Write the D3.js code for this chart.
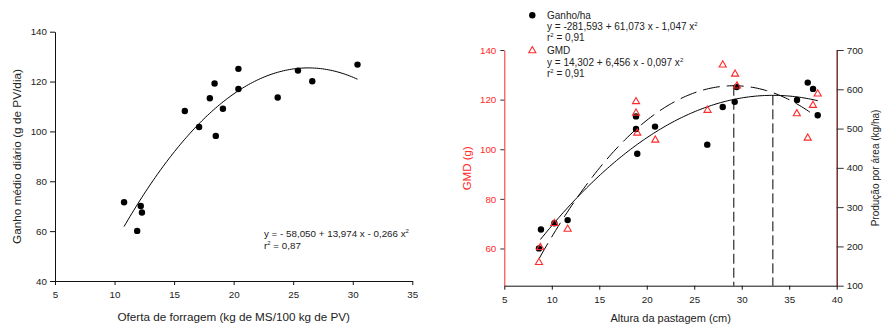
<!DOCTYPE html>
<head>
  <meta charset="utf-8">
  <title>Ganho médio diário e produção por área</title>
  <style>
    body { margin: 0; background: #fff; font-family: "Liberation Sans", Arial, sans-serif; }
    svg text { font-family: "Liberation Sans", Arial, sans-serif; }
  </style>
  <script src="https://cdn.jsdelivr.net/npm/d3@7/dist/d3.min.js"></script>
</head>
<body>
<script>
  // ---- data: left panel (oferta de forragem x GMD)
  var ofertaX   = [10.8, 11.9, 12.2, 12.3, 15.9, 17.1, 18.0, 18.4, 18.5, 19.1, 20.4, 20.4, 23.7, 25.4, 26.6, 30.4];
  var ofertaGMD = [71.6, 60.1, 70.1, 67.5, 108.2, 101.8, 113.3, 119.2, 98.2, 109.1, 125.1, 117.0, 113.6, 124.4, 120.1, 126.8];
  var coefOferta = [-58.050, 13.974, -0.266];   // y = a + b x + c x^2
  var rangeOferta = [10.8, 30.4];

  // ---- data: right panel (altura da pastagem)
  var alturaGanho = [8.65, 8.86, 10.27, 11.67, 18.87, 18.87, 19.0, 20.87, 26.37, 28.0, 29.26, 29.47, 35.82, 36.95, 37.51, 38.0];
  var ganhoHa     = [195, 243, 259, 267, 531, 499, 436, 505, 459, 555, 568, 606, 573, 617, 601, 534];
  var alturaGMD   = [8.65, 8.79, 10.27, 11.67, 18.87, 18.87, 19.0, 20.9, 26.4, 28.0, 29.3, 29.5, 35.8, 36.95, 37.5, 38.0];
  var gmdAltura   = [54.4, 60.4, 70.1, 67.8, 119.2, 114.6, 106.5, 103.7, 115.7, 134.0, 130.3, 125.5, 114.3, 104.5, 117.7, 122.3];
  var coefGanho = [-281.593, 61.073, -1.047];
  var coefGMD   = [14.302, 6.456, -0.097];
  var rangeGanho = [8.7, 38.0];
  var rangeGMD   = [8.8, 38.0];

  var xTicksLeft  = [5, 10, 15, 20, 25, 30, 35];
  var yTicksLeft  = [40, 60, 80, 100, 120, 140];
  var xTicksRight = [5, 10, 15, 20, 25, 30, 35, 40];
  var yTicksGMD   = [60, 80, 100, 120, 140];
  var yTicksGanho = [100, 200, 300, 400, 500, 600, 700];

  var width = 882, height = 324;
  var red = "#ff2a2a", maroon = "#6e2020", txt = "#222";

  var svg = d3.select("body").append("svg")
    .attr("width", width).attr("height", height);

  function quad(c) { return function (x) { return c[0] + c[1] * x + c[2] * x * x; }; }
  function curvePts(c, r) {
    var f = quad(c), pts = [], n = 120;
    for (var i = 0; i <= n; i++) { var x = r[0] + (r[1] - r[0]) * i / n; pts.push([x, f(x)]); }
    return pts;
  }

  // ================= left panel =================
  var xL = d3.scaleLinear().domain([5, 35]).range([55, 412.3]);
  var yL = d3.scaleLinear().domain([40, 140]).range([281, 31.7]);

  var axL = svg.append("g").attr("transform", "translate(0," + yL(40) + ")")
    .call(d3.axisBottom(xL).tickValues(xTicksLeft).tickSize(4).tickPadding(6).tickSizeOuter(0));
  var ayL = svg.append("g").attr("transform", "translate(" + xL(5) + ",0)")
    .call(d3.axisLeft(yL).tickValues(yTicksLeft).tickSize(5).tickPadding(3).tickSizeOuter(0));
  [axL, ayL].forEach(function (g) {
    g.selectAll("path, line").attr("stroke", "#111");
    g.selectAll("text").attr("fill", txt).style("font-size", "9.8px");
  });

  svg.append("path")
    .datum(curvePts(coefOferta, rangeOferta))
    .attr("fill", "none").attr("stroke", "#000").attr("stroke-width", 1)
    .attr("d", d3.line().x(d => xL(d[0])).y(d => yL(d[1])));

  svg.append("g").selectAll("circle")
    .data(ofertaX).enter().append("circle")
    .attr("cx", d => xL(d))
    .attr("cy", (d, i) => yL(ofertaGMD[i]))
    .attr("r", 3.2).attr("fill", "#000");

  var eqL = svg.append("text").attr("x", 264).attr("y", 237).attr("fill", txt).style("font-size", "9.8px");
  eqL.append("tspan").text("y = - 58,050 + 13,974 x - 0,266 x");
  eqL.append("tspan").attr("dy", -4).style("font-size", "6px").text("2");
  var r2L = svg.append("text").attr("x", 264).attr("y", 248.5).attr("fill", txt).style("font-size", "9.8px");
  r2L.append("tspan").text("r");
  r2L.append("tspan").attr("dy", -4).style("font-size", "6px").text("2");
  r2L.append("tspan").attr("dy", 4).text(" = 0,87");

  svg.append("text").attr("x", 233.7).attr("y", 321).attr("text-anchor", "middle")
    .attr("fill", txt).style("font-size", "11.7px")
    .text("Oferta de forragem (kg de MS/100 kg de PV)");
  svg.append("text").attr("transform", "translate(20.5,156.5) rotate(-90)").attr("text-anchor", "middle")
    .attr("fill", txt).style("font-size", "11.8px")
    .text("Ganho médio diário (g de PV/dia)");

  // ================= right panel =================
  var xR = d3.scaleLinear().domain([5, 40]).range([504.3, 836.7]);
  var yG = d3.scaleLinear().domain([45, 140]).range([285.7, 50]);
  var yH = d3.scaleLinear().domain([100, 700]).range([285.7, 50]);

  var axR = svg.append("g").attr("transform", "translate(0,285.7)")
    .call(d3.axisBottom(xR).tickValues(xTicksRight).tickSize(4).tickPadding(6).tickSizeOuter(0));
  axR.selectAll("path, line").attr("stroke", "#111");
  axR.selectAll("text").attr("fill", txt).style("font-size", "9.8px");

  var ayG = svg.append("g").attr("transform", "translate(" + xR(5) + ",0)")
    .call(d3.axisLeft(yG).tickValues(yTicksGMD).tickSize(4).tickPadding(4).tickSizeOuter(0));
  ayG.select("path").attr("stroke", red);
  ayG.selectAll("line").attr("stroke", "#333");
  ayG.selectAll("text").attr("fill", red).style("font-size", "9.8px");

  var ayH = svg.append("g").attr("transform", "translate(" + xR(40) + ",0)")
    .call(d3.axisRight(yH).tickValues(yTicksGanho).tickSize(7).tickPadding(3).tickSizeOuter(0));
  ayH.select("path").attr("stroke", maroon).attr("stroke-width", 1.4);
  ayH.selectAll("line").attr("stroke", "#333");
  ayH.selectAll("text").attr("fill", txt).style("font-size", "9.8px");

  // fitted curves: Ganho/ha dashed (right axis), GMD solid (left axis)
  svg.append("path")
    .datum(curvePts(coefGanho, rangeGanho))
    .attr("fill", "none").attr("stroke", "#000").attr("stroke-width", 1)
    .attr("stroke-dasharray", "17,7")
    .attr("d", d3.line().x(d => xR(d[0])).y(d => yH(d[1])));
  svg.append("path")
    .datum(curvePts(coefGMD, rangeGMD))
    .attr("fill", "none").attr("stroke", "#000").attr("stroke-width", 1)
    .attr("d", d3.line().x(d => xR(d[0])).y(d => yG(d[1])));

  // vertical lines at the maxima
  var peakGanho = -coefGanho[1] / (2 * coefGanho[2]);
  var peakGMD = -coefGMD[1] / (2 * coefGMD[2]);
  svg.append("line")
    .attr("x1", xR(peakGanho)).attr("x2", xR(peakGanho))
    .attr("y1", yH(quad(coefGanho)(peakGanho))).attr("y2", yH(100))
    .attr("stroke", "#000").attr("stroke-width", 1).attr("stroke-dasharray", "10,4");
  svg.append("line")
    .attr("x1", xR(peakGMD)).attr("x2", xR(peakGMD))
    .attr("y1", yG(quad(coefGMD)(peakGMD))).attr("y2", yH(100))
    .attr("stroke", "#000").attr("stroke-width", 1).attr("stroke-dasharray", "10,4");

  var tri = d3.symbol().type(d3.symbolTriangle).size(22);

  svg.append("g").selectAll("circle")
    .data(alturaGanho).enter().append("circle")
    .attr("cx", d => xR(d))
    .attr("cy", (d, i) => yH(ganhoHa[i]))
    .attr("r", 3.2).attr("fill", "#000");

  svg.append("g").selectAll("path")
    .data(alturaGMD).enter().append("path")
    .attr("d", tri)
    .attr("transform", (d, i) => "translate(" + xR(d) + "," + yG(gmdAltura[i]) + ")")
    .attr("fill", "none").attr("stroke", red).attr("stroke-width", 1.1);

  // legend
  svg.append("circle").attr("cx", 532.3).attr("cy", 15.3).attr("r", 3.2).attr("fill", "#000");
  svg.append("path").attr("d", tri).attr("transform", "translate(532.3,50.7)")
    .attr("fill", "none").attr("stroke", red).attr("stroke-width", 1.1);

  function legendBlock(y0, name, eq, r2) {
    svg.append("text").attr("x", 547).attr("y", y0).attr("fill", txt).style("font-size", "10px").text(name);
    var e = svg.append("text").attr("x", 547).attr("y", y0 + 11.3).attr("fill", txt).style("font-size", "10px");
    e.append("tspan").text(eq);
    e.append("tspan").attr("dy", -4).style("font-size", "6px").text("2");
    var r = svg.append("text").attr("x", 547).attr("y", y0 + 22.6).attr("fill", txt).style("font-size", "10px");
    r.append("tspan").text("r");
    r.append("tspan").attr("dy", -4).style("font-size", "6px").text("2");
    r.append("tspan").attr("dy", 4).text(" = " + r2);
  }
  legendBlock(18.8, "Ganho/ha", "y = -281,593 + 61,073 x - 1,047 x", "0,91");
  legendBlock(54.3, "GMD", "y = 14,302 + 6,456 x - 0,097 x", "0,91");

  svg.append("text").attr("x", 670.7).attr("y", 322).attr("text-anchor", "middle")
    .attr("fill", txt).style("font-size", "11px").text("Altura da pastagem (cm)");
  svg.append("text").attr("transform", "translate(471,168.3) rotate(-90)").attr("text-anchor", "middle")
    .attr("fill", red).style("font-size", "11.5px").text("GMD (g)");
  svg.append("text").attr("transform", "translate(879,168) rotate(-90)").attr("text-anchor", "middle")
    .attr("fill", txt).style("font-size", "10px").text("Produção por área (kg/ha)");
</script>
</body>
